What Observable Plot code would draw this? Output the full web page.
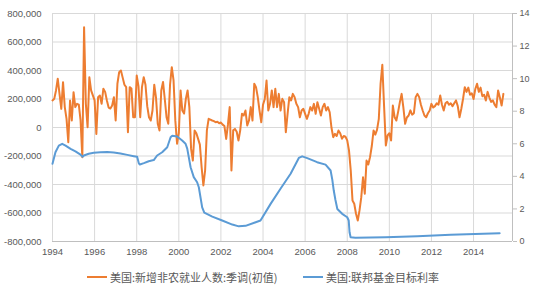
<!DOCTYPE html>
<html>
<head>
<meta charset="utf-8">
<script src="https://cdn.jsdelivr.net/npm/d3@7"></script>
<script src="https://cdn.jsdelivr.net/npm/@observablehq/plot@0.6"></script>
<style>
  body { margin: 0; background: #fff; }
  #chart { width: 537px; height: 290px; position: relative; overflow: hidden; background: #fff; }
  .legend { position: relative; height: 28px; font: 11px "Noto Sans CJK SC", sans-serif; color: #595959; }
  .legend .sw { position: absolute; top: 14px; width: 20px; height: 2px; }
  .legend .tx { position: absolute; top: 0; line-height: 30px; white-space: nowrap; }
</style>
</head>
<body>
<div id="chart"></div>
<script>
// 美国:新增非农就业人数:季调(初值) — monthly, starting Jan 1994, in thousands of persons
const payrollStart = 1994;
const payrollK = [
  190, 201, 260, 342, 236, 131, 318, 143, 60, -103, 189, 49,
  248, 143, 166, 160, 50, -208, 704, 168, 2, 353, 260, 225,
  190, -45, 213, 225, 166, 272, 250, 190, 140, 133, 154, 213,
  49, 307, 388, 400, 350, 300, 283, -33, 283, 274, 72, 72,
  365, 290, 72, 283, 353, 300, 150, 72, 49, 119, 300, 210,
  26, -21, 260, 320, 200, 72, 26, 300, 423, 330, 50, -114,
  -40, 260, 119, 98, 200, 260, 143, -150, -232, -21, -40, -80,
  -120, -279, -407, -300, -20, 61, 55, 49, 45, 37, 40, 30,
  35, 20, 10, -80, 20, 143, -302, -20, -10, -30, -91, -20,
  96, 84, 119, 14, 49, 143, 49, 307, 283, 213, 119, 37,
  160, 200, 330, 119, 166, 260, 143, 272, 143, 236, 119, 201,
  178, -33, 96, 213, 190, 236, 213, 166, 143, 72, 119, 131,
  96, 61, 96, 143, 119, 166, 96, 178, 131, 84, 143, 166,
  119, 143, 107, 0, -68, -44, -60, -21, -40, -79, -60, -65,
  -90, -161, -302, -512, -535, -605, -653, -582, -489, -349, -465, -232,
  -260, -208, -130, -21, -50, -15, 61, 307, 440, 150, -126, -56,
  -40, -91, 154, 72, 49, 110, 178, 236, 140, 26, 70, 84,
  120, 90, 100, 213, 236, 213, 160, 119, 84, 72, 100, 120,
  166, 140, 150, 170, 160, 225, 160, 119, 170, 180, 160, 170,
  150, 170, 190, 150, 72, 130, 200, 283, 250, 280, 230, 240,
  200, 270, 307, 250, 280, 220, 230, 190, 250, 210, 180, 190,
  160, 143, 260, 210, 154, 236
];

// 美国:联邦基金目标利率 — (decimal year, %)
const fedDates = [
  1994.00, 1994.14, 1994.30, 1994.46, 1994.62, 1994.86, 1995.09, 1995.33, 1995.43, 1995.49,
  1995.72, 1995.96, 1996.28, 1996.60, 1996.91, 1997.23, 1997.55, 1997.86, 1998.02, 1998.10,
  1998.15, 1998.34, 1998.57, 1998.81, 1998.97, 1999.21, 1999.45, 1999.61, 1999.69, 1999.92,
  2000.16, 2000.32, 2000.40, 2000.56, 2000.71, 2000.87, 2000.95, 2001.11, 2001.21, 2001.59,
  2002.06, 2002.54, 2002.85, 2003.17, 2003.88, 2004.36, 2004.83, 2005.31, 2005.70, 2005.86,
  2006.10, 2006.57, 2006.97, 2007.21, 2007.29, 2007.36, 2007.44, 2007.53, 2007.76, 2008.00,
  2008.07, 2008.11, 2008.16, 2008.39, 2009.82, 2011.33, 2012.91, 2015.24
];
const fedRates = [
  4.77, 5.48, 5.89, 6.00, 5.89, 5.69, 5.53, 5.33, 5.20, 5.28,
  5.39, 5.45, 5.48, 5.49, 5.46, 5.40, 5.32, 5.24, 5.20, 4.80,
  4.73, 4.81, 4.93, 5.00, 5.28, 5.48, 5.79, 6.40, 6.50, 6.45,
  6.20, 6.00, 5.70, 4.56, 3.95, 3.64, 3.33, 2.10, 1.77, 1.53,
  1.29, 1.04, 0.93, 0.96, 1.29, 2.31, 3.24, 4.16, 5.13, 5.23,
  5.12, 4.87, 4.72, 4.36, 3.80, 3.13, 2.55, 2.00, 1.70, 1.49,
  1.29, 0.57, 0.26, 0.23, 0.26, 0.33, 0.41, 0.51
];

const xTicks = [1994, 1996, 1998, 2000, 2002, 2004, 2006, 2008, 2010, 2012, 2014];
const leftTicks = [-800000, -600000, -400000, -200000, 0, 200000, 400000, 600000, 800000];
const rightTicks = [0, 2, 4, 6, 8, 10, 12, 14];

const xEnd = 2015.85;
const leftMin = -800000, leftMax = 800000, rightMax = 14;
const toLeft = r => leftMin + r / rightMax * (leftMax - leftMin);
const fromLeft = v => (v - leftMin) / (leftMax - leftMin) * rightMax;

const payrollData = payrollK.map((v, i) => ({date: payrollStart + i / 12, value: v * 1000}));
const fedData = fedDates.map((d, i) => ({date: d, y: toLeft(fedRates[i])}));

const plot = Plot.plot({
  width: 537,
  height: 262,
  marginTop: 13,
  marginBottom: 21,
  marginLeft: 52,
  marginRight: 25,
  style: {fontFamily: "'Liberation Sans', Arial, sans-serif", fontSize: "9.5px", color: "#595959", background: "#fff", overflow: "visible"},
  x: {domain: [1994, xEnd]},
  y: {domain: [leftMin, leftMax]},
  marks: [
    Plot.gridY(leftTicks, {stroke: "#d9d9d9", strokeOpacity: 1}),
    Plot.gridX(xTicks, {stroke: "#d9d9d9", strokeOpacity: 1}),
    Plot.ruleY([leftMin], {stroke: "#bfbfbf"}),
    Plot.ruleX([xEnd], {stroke: "#bfbfbf"}),
    Plot.axisY(leftTicks, {anchor: "left", tickSize: 0, tickPadding: 11, label: null, fill: "#595959",
      tickFormat: d => d.toLocaleString("en-US")}),
    Plot.axisY(rightTicks.map(toLeft), {anchor: "right", tickSize: 4, tickPadding: 3, label: null,
      stroke: "#bfbfbf", fill: "#595959", fontSize: 9,
      tickFormat: v => String(Math.round(fromLeft(v)))}),
    Plot.axisX(xTicks, {anchor: "bottom", tickSize: 0, tickPadding: 7, label: null, fill: "#595959",
      tickFormat: d => String(d)}),
    Plot.line(payrollData, {x: "date", y: "value", stroke: "#ED7D31", strokeWidth: 2, strokeLinejoin: "round"}),
    Plot.line(fedData, {x: "date", y: "y", stroke: "#5B9BD5", strokeWidth: 2, strokeLinejoin: "round"})
  ]
});

const chart = document.getElementById("chart");
chart.appendChild(plot);

const legend = document.createElement("div");
legend.className = "legend";
legend.innerHTML =
  '<span class="sw" style="left:87px;background:#ED7D31"></span>' +
  '<span class="tx" style="left:110px">美国:新增非农就业人数:季调(初值)</span>' +
  '<span class="sw" style="left:303px;background:#5B9BD5"></span>' +
  '<span class="tx" style="left:326px">美国:联邦基金目标利率</span>';
chart.appendChild(legend);
</script>
</body>
</html>
